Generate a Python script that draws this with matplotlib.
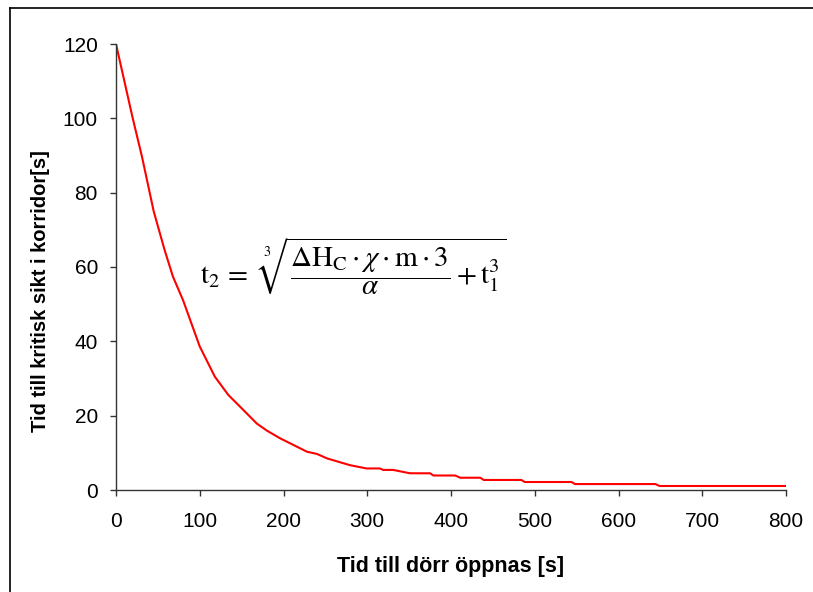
import matplotlib
matplotlib.use("Agg")
import matplotlib.pyplot as plt
from matplotlib.lines import Line2D

# time until door opens [s] vs. time to critical visibility in corridor [s]
door_time = [0, 20, 31, 45, 58, 68, 80, 100, 118, 134, 150, 168, 180, 196, 220,
             228, 240, 252, 279, 299, 315, 319, 331, 351, 375, 379, 405, 411, 435,
             439, 484, 488, 544, 548, 644, 649, 800]
crit_time = [120, 100, 89.7, 75, 64.6, 57.4, 51.1, 38.6, 30.5, 25.6, 22.0, 17.9,
             16.0, 13.9, 11.2, 10.3, 9.7, 8.5, 6.7, 5.8, 5.8, 5.4, 5.4, 4.5, 4.5,
             3.9, 3.9, 3.3, 3.3, 2.7, 2.7, 2.15, 2.15, 1.6, 1.6, 1.08, 1.08]

x_ticks = list(range(0, 801, 100))
y_ticks = list(range(0, 121, 20))

plt.rcParams["font.family"] = ["Liberation Sans", "DejaVu Sans"]
plt.rcParams["mathtext.fontset"] = "stix"

W, H = 813, 592
fig = plt.figure(figsize=(W / 100, H / 100), dpi=100)
ax = fig.add_axes([116 / W, 1 - 490 / H, (786 - 116) / W, (490 - 44) / H])

ax.plot(door_time, crit_time, color="#ff0000", lw=1.5, solid_joinstyle="round")

ax.set_xlim(0, 800)
ax.set_ylim(0, 120)
ax.set_xticks(x_ticks)
ax.set_yticks(y_ticks)
for side in ["top", "right"]:
    ax.spines[side].set_visible(False)
for side in ["left", "bottom"]:
    ax.spines[side].set_color("#333333")
    ax.spines[side].set_linewidth(1.0)
ax.tick_params(direction="out", length=4, width=1, color="#333333",
               labelsize=15, pad=9)
ax.tick_params(axis="x", pad=12)

ax.set_xlabel("Tid till dörr öppnas [s]", fontsize=15.5, fontweight="bold",
              labelpad=18)
ax.set_ylabel("Tid till kritisk sikt i korridor[s]", fontsize=14.5,
              fontweight="bold")
# Excel put the y title a bit below the axis middle
ax.yaxis.set_label_coords(-66 / (786 - 116), (490 - 291) / (490 - 44))

formula = (r"$\mathrm{t}_2\,=\;\;\sqrt[3]{\dfrac{\Delta\mathrm{H}_\mathrm{C}\cdot\chi"
           r"\cdot\mathrm{m}\cdot 3}{\alpha} + \mathrm{t}_1^3}$")
ax.text(283, 60, formula, fontsize=21, ha="center", va="center")

# outer chart border (left and top edges visible in the crop)
fig.add_artist(Line2D([9.5 / W, 9.5 / W], [0, 1 - 7.5 / H],
                      transform=fig.transFigure, color="black", lw=1.2))
fig.add_artist(Line2D([9.5 / W, 1], [1 - 7.5 / H, 1 - 7.5 / H],
                      transform=fig.transFigure, color="black", lw=1.2))

fig.savefig("out.png", dpi=100)
